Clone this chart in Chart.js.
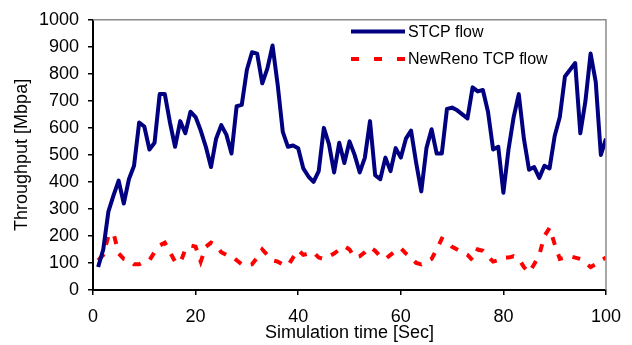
<!DOCTYPE html>
<html>
<head>
<meta charset="utf-8">
<script src="https://cdn.jsdelivr.net/npm/chart.js@4.4.1/dist/chart.umd.min.js"></script>
<style>
html, body { margin: 0; padding: 0; background: #fff; }
#wrap { width: 632px; height: 345px; }
</style>
</head>
<body>
<div id="wrap"><canvas id="throughputChart"></canvas></div>
<script>
// values, one per second

const simTime = [
    1, 2, 3, 4, 5, 6, 7, 8, 9, 10, 11, 12, 13, 14, 15, 16, 17, 18, 19, 20,
    21, 22, 23, 24, 25, 26, 27, 28, 29, 30, 31, 32, 33, 34, 35, 36, 37, 38, 39, 40,
    41, 42, 43, 44, 45, 46, 47, 48, 49, 50, 51, 52, 53, 54, 55, 56, 57, 58, 59, 60,
    61, 62, 63, 64, 65, 66, 67, 68, 69, 70, 71, 72, 73, 74, 75, 76, 77, 78, 79, 80,
    81, 82, 83, 84, 85, 86, 87, 88, 89, 90, 91, 92, 93, 94, 95, 96, 97, 98, 99, 100
];

const stcpFlow = [
    85, 150, 290, 350, 405, 320, 410, 460, 620, 605, 520, 545, 725, 725, 620, 530, 625, 580, 660, 640,
    590, 530, 455, 560, 610, 575, 505, 680, 685, 815, 880, 875, 765, 820, 905, 760, 585, 530, 535, 525,
    450, 420, 400, 440, 600, 540, 435, 545, 470, 550, 500, 435, 490, 625, 425, 410, 490, 440, 525, 490,
    560, 590, 470, 365, 525, 595, 505, 505, 670, 675, 665, 650, 635, 750, 735, 740, 660, 520, 530, 360,
    520, 640, 725, 560, 445, 455, 415, 460, 450, 570, 640, 790, 815, 840, 580, 700, 875, 770, 500, 560
];

const newRenoFlow = [
    110, 130, 200, 210, 135, 115, 110, 95, 95, 105, 110, 140, 165, 175, 140, 105, 100, 150, 165, 160,
    105, 160, 175, 165, 140, 130, 125, 110, 95, 90, 95, 120, 150, 130, 110, 105, 95, 90, 120, 148,
    130, 135, 140, 120, 115, 125, 135, 150, 162, 150, 120, 125, 140, 158, 145, 125, 115, 130, 145, 155,
    135, 120, 100, 95, 105, 115, 150, 190, 180, 160, 150, 140, 130, 110, 150, 145, 125, 105, 110, 120,
    120, 125, 115, 85, 65, 95, 130, 200, 230, 170, 115, 120, 125, 120, 115, 100, 85, 95, 110, 120
];

const xTicks = [0, 20, 40, 60, 80, 100];
const yTicks = [0, 100, 200, 300, 400, 500, 600, 700, 800, 900, 1000];

const seriesNames = ['STCP flow', 'NewReno TCP flow'];
const seriesColors = ['#000080', '#ff0000'];

const fontFamily = '"Liberation Sans", Arial, sans-serif';

// grey top/right frame plus a legend that sits inside the plot
const frameAndLegend = {
    id: 'frameAndLegend',
    afterDatasetsDraw(chart) {
        const { ctx, chartArea: a } = chart;
        ctx.save();
        ctx.strokeStyle = '#8c8c8c';
        ctx.lineWidth = 1.5;
        ctx.beginPath();
        ctx.moveTo(a.left, a.top);
        ctx.lineTo(a.right, a.top);
        ctx.lineTo(a.right, a.bottom);
        ctx.stroke();

        const x0 = 351, x1 = 405;
        const rows = [31.5, 59];
        ctx.lineWidth = 4;
        ctx.lineCap = 'butt';
        ctx.font = '16px ' + fontFamily;
        ctx.textBaseline = 'middle';
        ctx.fillStyle = '#000';

        ctx.strokeStyle = seriesColors[0];
        ctx.beginPath();
        ctx.moveTo(x0, rows[0]);
        ctx.lineTo(x1, rows[0]);
        ctx.stroke();

        ctx.strokeStyle = seriesColors[1];
        ctx.setLineDash([8, 15]);
        ctx.beginPath();
        ctx.moveTo(x0, rows[1]);
        ctx.lineTo(x1 + 1, rows[1]);
        ctx.stroke();
        ctx.setLineDash([]);

        ctx.fillText(seriesNames[0], 408, rows[0] + 1);
        ctx.fillText(seriesNames[1], 408, rows[1] + 1);
        ctx.restore();
    }
};

new Chart(document.getElementById('throughputChart'), {
    type: 'line',
    data: {
        datasets: [{
            label: seriesNames[0],
            data: simTime.map((t, i) => ({ x: t, y: stcpFlow[i] })),
            borderColor: seriesColors[0],
            borderWidth: 4,
            pointRadius: 0,
            tension: 0,
            borderJoinStyle: 'round'
        }, {
            label: seriesNames[1],
            data: simTime.map((t, i) => ({ x: t, y: newRenoFlow[i] })),
            borderColor: seriesColors[1],
            borderWidth: 4,
            borderDash: [8, 10],
            pointRadius: 0,
            tension: 0
        }]
    },
    options: {
        responsive: true,
        maintainAspectRatio: false,
        animation: false,
        layout: {
            padding: { left: 0, right: 26, top: 13, bottom: 0 }
        },
        plugins: {
            legend: { display: false },
            tooltip: { enabled: false }
        },
        scales: {
            x: {
                type: 'linear',
                min: 0,
                max: 100,
                afterBuildTicks: axis => { axis.ticks = xTicks.map(v => ({ value: v })); },
                afterFit: axis => { axis.height = 55; },
                grid: { drawOnChartArea: false, color: '#000', lineWidth: 1.5, tickLength: 5 },
                border: { color: '#000', width: 2 },
                ticks: {
                    color: '#000',
                    padding: 11,
                    font: { family: fontFamily, size: 18 },
                    maxRotation: 0,
                    callback: v => String(v)
                },
                title: {
                    display: true,
                    text: 'Simulation time [Sec]',
                    color: '#000',
                    font: { family: fontFamily, size: 18 },
                    padding: { top: 0, bottom: 1 }
                }
            },
            y: {
                min: 0,
                max: 1000,
                afterBuildTicks: axis => { axis.ticks = yTicks.map(v => ({ value: v })); },
                afterFit: axis => { axis.width = 93; },
                grid: { drawOnChartArea: false, color: '#000', lineWidth: 1.5, tickLength: 5 },
                border: { color: '#000', width: 2 },
                ticks: {
                    color: '#000',
                    padding: 9,
                    font: { family: fontFamily, size: 18 },
                    callback: v => String(v)
                },
                title: {
                    display: true,
                    text: 'Throughput [Mbpa]',
                    color: '#000',
                    font: { family: fontFamily, size: 18 },
                    padding: { top: 11, bottom: 0 }
                }
            }
        }
    },
    plugins: [frameAndLegend]
});
</script>
</body>
</html>
